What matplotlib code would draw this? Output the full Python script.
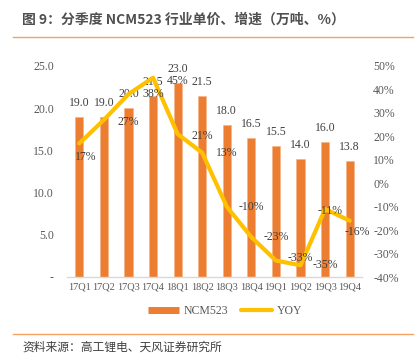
import matplotlib
matplotlib.use("Agg")
import matplotlib.pyplot as plt
import numpy as np
from matplotlib.lines import Line2D

plt.rcParams['font.family'] = ['Liberation Serif', 'Noto Sans CJK SC']

quarters = ["17Q1", "17Q2", "17Q3", "17Q4", "18Q1", "18Q2",
            "18Q3", "18Q4", "19Q1", "19Q2", "19Q3", "19Q4"]
price = [19.0, 19.0, 20.0, 21.5, 23.0, 21.5, 18.0, 16.5, 15.5, 14.0, 16.0, 13.8]
yoy = [17, 27, 38, 45, 21, 13, -10, -23, -33, -35, -11, -16]

# label placement offsets (category units, percentage points) as in the reference
lab_dx = [0.25, 1.0, 1.0, 1.0, 1.0, 1.0, 1.0, 1.0, 1.0, 1.0, 0.2, 0.3]
lab_dy = [-6, -1, 0, -1.5, -1, 0, 0, 0, 1, 0, -0.7, -4.7]

BAR = '#ED7D31'
LINE = '#FFC000'
TXT = '#404040'
TICK = '#595959'

fig = plt.figure(figsize=(4.16, 3.57), dpi=100)
ax = fig.add_axes([67/416, 1-277/357, (362-67)/416, (277-66)/357])
ax2 = ax.twinx()

x = np.arange(len(quarters))
bars = ax.bar(x, price, width=0.33, color=BAR, edgecolor='#F4B183', linewidth=0.4, zorder=2)
ax.set_xlim(-0.5, len(quarters) - 0.5)
ax.set_ylim(0, 25)
ax2.set_ylim(-40, 50)

for xi, v in zip(x, price):
    ax.annotate(f"{v:.1f}", (xi, v), xytext=(0, 10), textcoords='offset points',
                ha='center', va='center', fontsize=8.5, color=TXT)

ax2.plot(x, yoy, color=LINE, lw=3, solid_joinstyle='round', solid_capstyle='round', zorder=3)
for xi, v, dx, dy in zip(x, yoy, lab_dx, lab_dy):
    ax2.text(xi + dx, v + dy, f"{v}%", ha='center', va='center', fontsize=8.5, color=TXT, zorder=4)

ax.set_yticks([0, 5, 10, 15, 20, 25])
ax.set_yticklabels(['-' if t == 0 else f"{t:.1f}" for t in [0, 5, 10, 15, 20, 25]])
ax2.set_yticks(list(range(-40, 51, 10)))
ax2.set_yticklabels([f"{t}%" for t in range(-40, 51, 10)])
ax.set_xticks(x)
ax.set_xticklabels(quarters)

ax.tick_params(axis='y', length=0, pad=9.5, labelsize=8.5, labelcolor=TICK)
ax2.tick_params(axis='y', length=0, pad=8, labelsize=8.5, labelcolor=TICK)
ax.tick_params(axis='x', length=0, pad=4, labelsize=7.5, labelcolor=TICK)

for s in ['top', 'left', 'right']:
    ax.spines[s].set_visible(False)
    ax2.spines[s].set_visible(False)
ax2.spines['bottom'].set_visible(False)
ax.spines['bottom'].set_color('#D9D9D9')
ax.spines['bottom'].set_linewidth(1.0)

handles = [Line2D([], [], color=BAR, lw=5, solid_capstyle='butt'),
           Line2D([], [], color=LINE, lw=3, solid_capstyle='round')]
fig.legend(handles, ['NCM523', 'YOY'], loc='center', bbox_to_anchor=(225/416, 1-311/357),
           ncol=2, frameon=False, fontsize=8.5, handlelength=2.6, columnspacing=1.1,
           handletextpad=0.4, labelcolor=TICK)

fig.text(22/416, 1-20/357, "图 9：分季度 NCM523 行业单价、增速（万吨、%）",
         family=['Noto Sans CJK SC', 'DejaVu Sans'], fontsize=10, fontweight='bold',
         color='#505050', va='center', ha='left')
fig.add_artist(Line2D([13/416, 413/416], [1-37/357]*2, color='#F4A460', lw=1.0))
fig.add_artist(Line2D([13/416, 413/416], [1-334/357]*2, color='#F4A460', lw=1.0))
fig.text(22/416, 1-347/357, "资料来源：高工锂电、天风证券研究所",
         family=['Noto Sans CJK SC', 'DejaVu Sans'], fontsize=8.5,
         color='#404040', va='center', ha='left')

fig.savefig('out.png', dpi=100)
